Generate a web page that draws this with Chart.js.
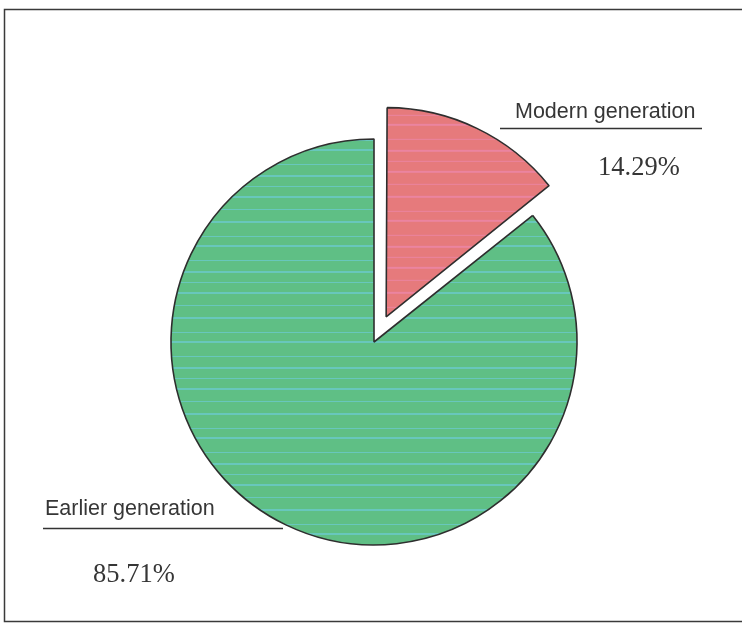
<!DOCTYPE html>
<html>
<head>
<meta charset="utf-8">
<script src="https://cdn.jsdelivr.net/npm/chart.js@4/dist/chart.umd.min.js"></script>
<style>
  html, body { margin: 0; padding: 0; background: #ffffff; }
  #wrap { width: 742px; height: 626px; position: relative; }
</style>
</head>
<body>
<div id="wrap"><canvas id="pie" width="742" height="626"></canvas></div>
<script>
// Share of respondents by generation (percent)
const categories = ['Modern generation', 'Earlier generation'];
const shares = [14.29, 85.71];
const sliceColors = ['#e67a7c', '#5fbf85'];
const stripeColors = ['rgba(238,140,190,0.55)', 'rgba(110,205,225,0.6)'];

// Print-style fill: base colour crossed by thin horizontal streaks
function streakFill(base, streak) {
  const c = document.createElement('canvas');
  c.width = 8; c.height = 96;
  const g = c.getContext('2d');
  g.fillStyle = base;
  g.fillRect(0, 0, 8, 96);
  g.fillStyle = streak;
  [[4, 2], [17, 1], [29, 2], [44, 1], [53, 2], [68, 1], [79, 2], [90, 1]].forEach(([y, h]) => g.fillRect(0, y, 8, h));
  return g.createPattern(c, 'repeat');
}

// Page frame, callout labels and leader lines
const calloutPlugin = {
  id: 'callouts',
  beforeDraw(chart) {
    const ctx = chart.ctx;
    ctx.save();
    ctx.fillStyle = '#ffffff';
    ctx.fillRect(0, 0, chart.width, chart.height);
    ctx.strokeStyle = '#3a3a3a';
    ctx.lineWidth = 1.5;
    ctx.strokeRect(4.5, 9.5, chart.width + 10, 612);
    ctx.restore();
  },
  afterDraw(chart) {
    const ctx = chart.ctx;
    const meta = chart.getDatasetMeta(0);
    const cx = meta.data[1].x, cy = meta.data[1].y;
    const fmt = v => v.toFixed(2) + '%';
    ctx.save();
    ctx.strokeStyle = '#333333';
    ctx.lineWidth = 1.3;
    // Modern generation callout (upper right)
    ctx.beginPath();
    ctx.moveTo(cx + 126, cy - 213.5);
    ctx.lineTo(cx + 328, cy - 213.5);
    ctx.stroke();
    // Earlier generation callout (lower left)
    ctx.beginPath();
    ctx.moveTo(cx - 331, cy + 186.5);
    ctx.lineTo(cx - 91, cy + 186.5);
    ctx.stroke();

    ctx.fillStyle = '#363636';
    ctx.textBaseline = 'alphabetic';
    ctx.textAlign = 'left';
    ctx.font = '21.5px "Liberation Sans", Arial, sans-serif';
    ctx.fillText(categories[0], cx + 141, cy - 224);
    ctx.fillText(categories[1], cx - 329, cy + 173);
    ctx.font = '26.5px "Liberation Serif", "Times New Roman", serif';
    ctx.fillText(fmt(shares[0]), cx + 224, cy - 167);
    ctx.fillText(fmt(shares[1]), cx - 281, cy + 240);
    ctx.restore();
  }
};

new Chart(document.getElementById('pie'), {
  type: 'pie',
  data: {
    labels: categories,
    datasets: [{
      data: shares,
      backgroundColor: sliceColors.map((c, i) => streakFill(c, stripeColors[i])),
      borderColor: '#2e2e2e',
      borderWidth: 1.6,
      // arc offset is applied at a quarter of its value when drawn
      offset: [112, 0]
    }]
  },
  options: {
    responsive: false,
    animation: false,
    radius: 203,
    layout: { padding: { left: 10, right: 4, top: 58, bottom: 0 } },
    plugins: {
      legend: { display: false },
      tooltip: { enabled: false }
    }
  },
  plugins: [calloutPlugin]
});
</script>
</body>
</html>
